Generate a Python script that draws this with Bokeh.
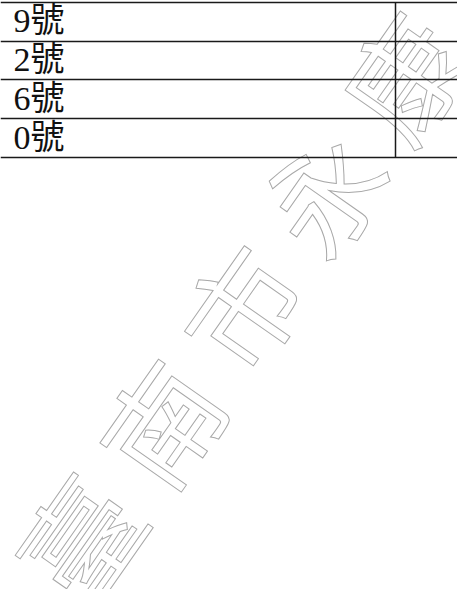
import math
from bokeh.plotting import figure
from bokeh.models import Range1d
from bokeh.core.properties import value
from bokeh.embed import file_html
from bokeh.resources import INLINE

# ---- data ----
row_labels = ["9號", "2號", "6號", "0號"]
watermark_chars = list("臺南市永康")

# ---- layout constants (reference pixel space) ----
TABLE_TOP = 1.7
ROW_H = 38.8
DIVIDER_X = 395
LABEL_X = 13
WM_CENTER = (238, 305)
WM_ANGLE = 55
WM_STEP = 141

n = len(row_labels)
boundaries = [TABLE_TOP + i * ROW_H for i in range(n + 1)]
label_y = [TABLE_TOP + (i + 0.5) * ROW_H - 1 for i in range(n)]

m = len(watermark_chars)
a = math.radians(WM_ANGLE)
wm_x = [WM_CENTER[0] + (i - (m - 1) / 2) * WM_STEP * math.cos(a) for i in range(m)]
wm_y = [WM_CENTER[1] - (i - (m - 1) / 2) * WM_STEP * math.sin(a) for i in range(m)]

p = figure(width=457, height=589,
           x_range=Range1d(0, 457), y_range=Range1d(589, 0),
           x_axis_type=None, y_axis_type=None,
           toolbar_location=None, output_backend="svg", min_border=0)
p.grid.visible = False
p.outline_line_color = None
p.background_fill_color = "white"
p.border_fill_color = "white"

# watermark (outlined, diagonal)
p.text(x=wm_x, y=wm_y, text=watermark_chars, angle=WM_ANGLE, angle_units="deg",
       text_font=value("Noto Sans CJK TC"), text_font_size="116px",
       text_align="center", text_baseline="middle",
       text_color="white", text_outline_color="#a8a8a8")

# table rules
p.hspan(y=boundaries, line_color="#1a1a1a", line_width=1.5)
p.segment(x0=[DIVIDER_X], y0=[boundaries[0]], x1=[DIVIDER_X], y1=[boundaries[-1]],
          line_color="#1a1a1a", line_width=1.5)

# row labels
p.text(x=[LABEL_X] * n, y=label_y, text=row_labels,
       text_font=value("Liberation Serif, Noto Sans CJK TC"), text_font_size="34px",
       text_baseline="middle", text_align="left", text_color="#111111")

open("out.html", "w").write(file_html(p, INLINE))
